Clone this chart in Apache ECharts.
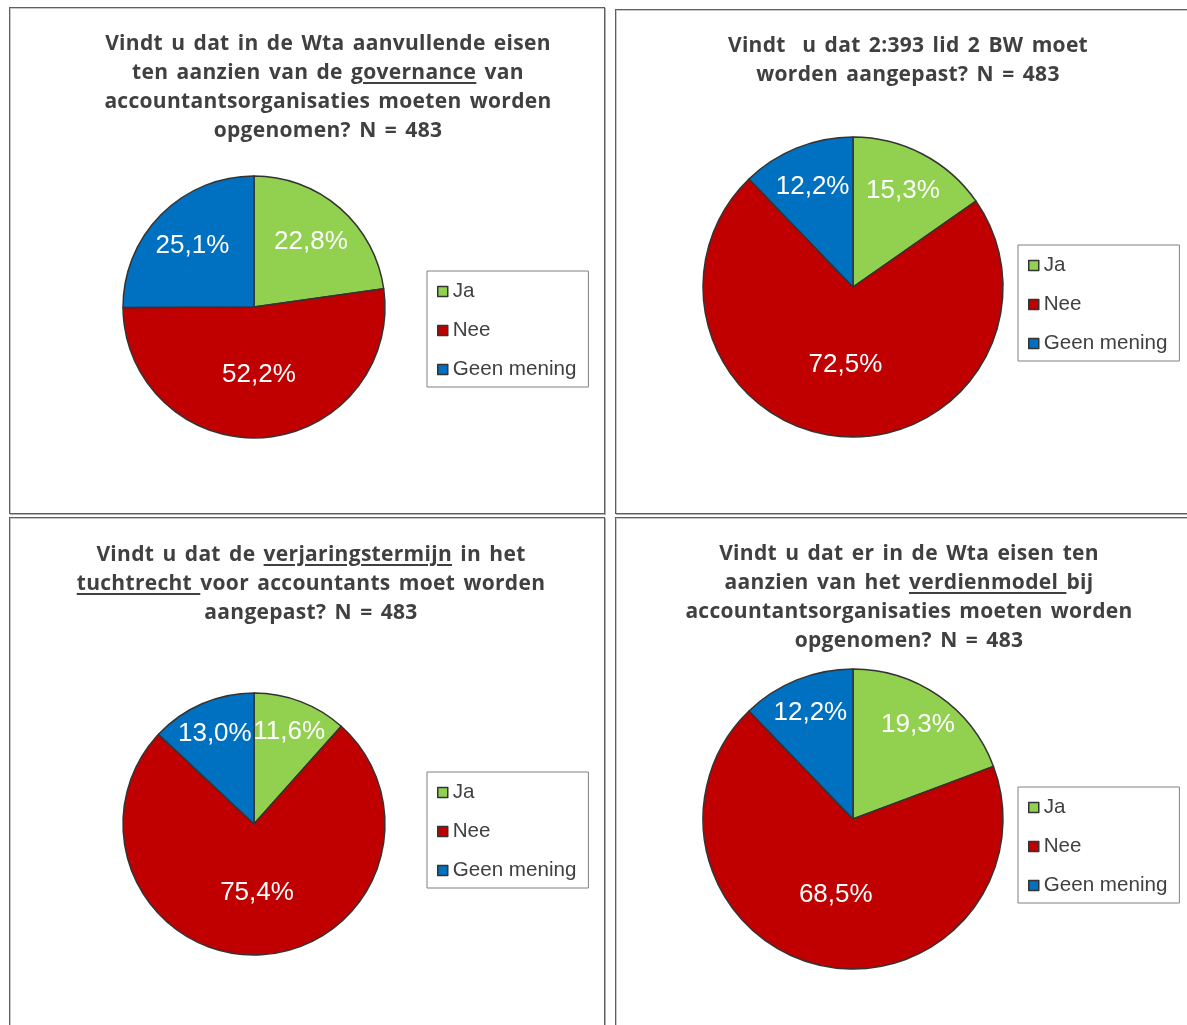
<!DOCTYPE html>
<html>
<head>
<meta charset="utf-8">
<script src="https://cdn.jsdelivr.net/npm/echarts@6/dist/echarts.min.js"></script>
<style>
  html, body { margin: 0; padding: 0; background: #fff; width: 1187px; height: 1025px; overflow: hidden; position: relative; }
  .panel { position: absolute; border: 1px solid #5f5f5f; box-shadow: 1px 1px 0 #b0b0b0, inset 1px 1px 0 #c8c8c8; background: #fff; }
  .title { position: absolute; width: 560px; text-align: center; white-space: pre; font-family: "Open Sans", sans-serif; font-weight: 700; font-size: 21px; letter-spacing: 0.3px; word-spacing: 2.5px; line-height: 29px; color: #404040; z-index: 3; }
  .title u { text-decoration-thickness: 1.5px; text-underline-offset: 3px; }
  #chart { position: absolute; left: 0; top: 0; width: 1187px; height: 1025px; z-index: 2; }
</style>
</head>
<body>
<div class="panel" style="left:9px; top:7px; width:594px; height:505px;"></div>
<div class="panel" style="left:615px; top:9px; width:600px; height:503px;"></div>
<div class="panel" style="left:9px; top:517px; width:594px; height:520px;"></div>
<div class="panel" style="left:615px; top:517px; width:600px; height:520px;"></div>

<div class="title" style="left:48px; top:28px;">Vindt u dat in de Wta aanvullende eisen
ten aanzien van de <u>governance</u> van
accountantsorganisaties moeten worden
opgenomen? N = 483</div>
<div class="title" style="left:628px; top:30px;">Vindt  u dat 2:393 lid 2 BW moet
worden aangepast? N = 483</div>
<div class="title" style="left:31px; top:539px;">Vindt u dat de <u>verjaringstermijn</u> in het
<u>tuchtrecht </u>voor accountants moet worden
aangepast? N = 483</div>
<div class="title" style="left:629px; top:538px;">Vindt u dat er in de Wta eisen ten
aanzien van het <u>verdienmodel </u>bij
accountantsorganisaties moeten worden
opgenomen? N = 483</div>

<div id="chart"></div>
<script>
// ---- data ----
var categories = ['Ja', 'Nee', 'Geen mening'];
var governance = [22.8, 52.2, 25.1];
var artikel2393 = [15.3, 72.5, 12.2];
var verjaringstermijn = [11.6, 75.4, 13.0];
var verdienmodel = [19.3, 68.5, 12.2];

var colors = ['#92D050', '#C00000', '#0070C0'];

function fmtVal(v) { return v.toFixed(1).replace('.', ',') + '%'; }

function toData(values) {
  return categories.map(function (c, i) {
    return { name: c, value: values[i], itemStyle: { color: colors[i] } };
  });
}

var labelFont = { color: '#fff', fontSize: 26, fontFamily: '"Liberation Sans", Arial, sans-serif' };

function pieSeries(values, center, r, smallFactor) {
  var data = toData(values);
  return [
    {
      type: 'pie', center: center, radius: [0, r], startAngle: 90, clockwise: true,
      avoidLabelOverlap: false, silent: true,
      itemStyle: { borderColor: '#333', borderWidth: 1.5 },
      label: Object.assign({ show: true, position: 'inside',
        formatter: function (p) { return p.value >= 40 ? fmtVal(p.value) : ''; } }, labelFont),
      labelLine: { show: false },
      data: data
    },
    {
      type: 'pie', center: center, radius: [0, r * smallFactor], startAngle: 90, clockwise: true,
      avoidLabelOverlap: false, silent: true, z: 5,
      itemStyle: { color: 'rgba(0,0,0,0)', borderWidth: 0 },
      label: Object.assign({ show: true, position: 'inside',
        formatter: function (p) { return p.value < 40 ? fmtVal(p.value) : ''; } }, labelFont),
      labelLine: { show: false },
      data: categories.map(function (c, i) { return { name: c, value: values[i], itemStyle: { color: 'rgba(0,0,0,0)' } }; })
    }
  ];
}

function legend(left, top) {
  return {
    data: categories, orient: 'vertical', left: left, top: top,
    icon: 'rect', itemWidth: 10, itemHeight: 10, itemGap: 18,
    padding: [10, 12, 7, 10],
    borderColor: '#808080', borderWidth: 1, backgroundColor: '#fff',
    selectedMode: false,
    itemStyle: { borderColor: '#333', borderWidth: 1.5 },
    textStyle: { fontSize: 20.6, lineHeight: 20, color: '#404040', fontFamily: '"Liberation Sans", Arial, sans-serif' }
  };
}

var chart = echarts.init(document.getElementById('chart'), null, { renderer: 'canvas' });
chart.setOption({
  animation: false,
  backgroundColor: 'transparent',
  legend: [legend(427, 271), legend(1018, 245), legend(427, 772), legend(1018, 787)],
  series: [].concat(
    pieSeries(governance, [254, 307], 131, 1.28),
    pieSeries(artikel2393, [853, 287], 150, 1.4),
    pieSeries(verjaringstermijn, [254, 824], 131, 1.46),
    pieSeries(verdienmodel, [853, 819], 150, 1.48)
  )
});
</script>
</body>
</html>
